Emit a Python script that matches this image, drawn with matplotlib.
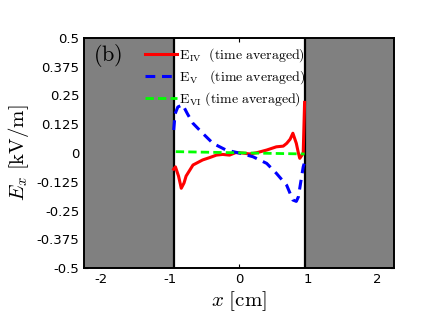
import matplotlib

matplotlib.use("Agg")

import matplotlib.pyplot as plt
from matplotlib.patches import Rectangle

plt.rcParams["mathtext.fontset"] = "cm"

# E_IV (time averaged)
x_iv = [-0.95, -0.925, -0.88, -0.84, -0.80, -0.77, -0.67, -0.53, -0.43, -0.33, -0.24, -0.14,
        -0.05, 0.05, 0.15, 0.25, 0.40, 0.54, 0.64, 0.69, 0.74, 0.78, 0.83, 0.86, 0.88, 0.91,
        0.93, 0.95]
e_iv = [-0.07, -0.06, -0.10, -0.153, -0.13, -0.10, -0.052, -0.03, -0.02, -0.009, -0.006,
        -0.009, 0.002, 0.0, -0.004, 0.001, 0.013, 0.027, 0.03, 0.042, 0.06, 0.086, 0.042,
        0.0, -0.023, -0.01, 0.0, 0.22]

# E_V (time averaged)
x_v = [-0.95, -0.93, -0.89, -0.82, -0.75, -0.67, -0.53, -0.38, -0.19, 0.0, 0.2, 0.40, 0.54,
       0.69, 0.78, 0.83, 0.86, 0.93, 0.95]
e_v = [0.10, 0.17, 0.20, 0.21, 0.17, 0.129, 0.086, 0.042, 0.013, 0.0, -0.016, -0.045, -0.088,
       -0.14, -0.204, -0.21, -0.19, -0.06, -0.04]

# E_VI (time averaged)
x_vi = [-0.92, 0.0, 0.95]
e_vi = [0.006, 0.001, -0.004]

x_ticks = [-2, -1, 0, 1, 2]
y_ticks = [-0.5, -0.375, -0.25, -0.125, 0, 0.125, 0.25, 0.375, 0.5]
y_tick_labels = ["-0.5", "-0.375", "-0.25", "-0.125", "0", "0.125", "0.25", "0.375", "0.5"]

fig = plt.figure(figsize=(4.36, 3.27), dpi=100)
ax = fig.add_axes([0.193, 0.180, 0.711, 0.704])
ax.set_xlim(-2.25, 2.25)
ax.set_ylim(-0.5, 0.5)
ax.set_axisbelow(True)

# grey regions outside the channel
ax.add_patch(Rectangle((-2.25, -0.5), 1.3, 1.0, facecolor="#808080", edgecolor="none", zorder=1))
ax.add_patch(Rectangle((0.95, -0.5), 1.3, 1.0, facecolor="#808080", edgecolor="none", zorder=1))
ax.axvline(-0.95, color="black", lw=1.6, zorder=3)
ax.axvline(0.95, color="black", lw=1.6, zorder=3)

ax.plot(x_iv, e_iv, color="#ff0000", lw=2.2, zorder=4,
        label=r"$\mathrm{E_{IV}\ \ (time\ averaged)}$")
ax.plot(x_v, e_v, color="#0000ff", lw=2.2, ls=(0, (3.2, 2.2)), zorder=4,
        label=r"$\mathrm{E_{V}\ \ \ (time\ averaged)}$")
ax.plot(x_vi, e_vi, color="#00ff00", lw=2.0, ls=(0, (3, 1.5)), zorder=4,
        label=r"$\mathrm{E_{VI}\ (time\ averaged)}$")

ax.set_xticks(x_ticks)
ax.set_xticklabels([str(t) for t in x_ticks])
ax.set_yticks(y_ticks)
ax.set_yticklabels(y_tick_labels)
ax.tick_params(direction="in", length=3, width=0.8, labelsize=9.5, top=True, right=True)
for s in ax.spines.values():
    s.set_linewidth(1.4)
    s.set_zorder(5)

ax.set_xlabel(r"$x\ \mathrm{[cm]}$", fontsize=15, labelpad=2)
ax.set_ylabel(r"$E_x\ \mathrm{[kV/m]}$", fontsize=15, labelpad=4)

ax.text(0.03, 0.9, r"$\mathrm{(b)}$", transform=ax.transAxes, fontsize=16, zorder=6)

ax.legend(loc="upper left", bbox_to_anchor=(0.197, 0.962), frameon=False, borderpad=0,
          borderaxespad=0, handlelength=2.3, handletextpad=0.15, labelspacing=0.28,
          fontsize=10)

fig.savefig("out.png", dpi=100)
